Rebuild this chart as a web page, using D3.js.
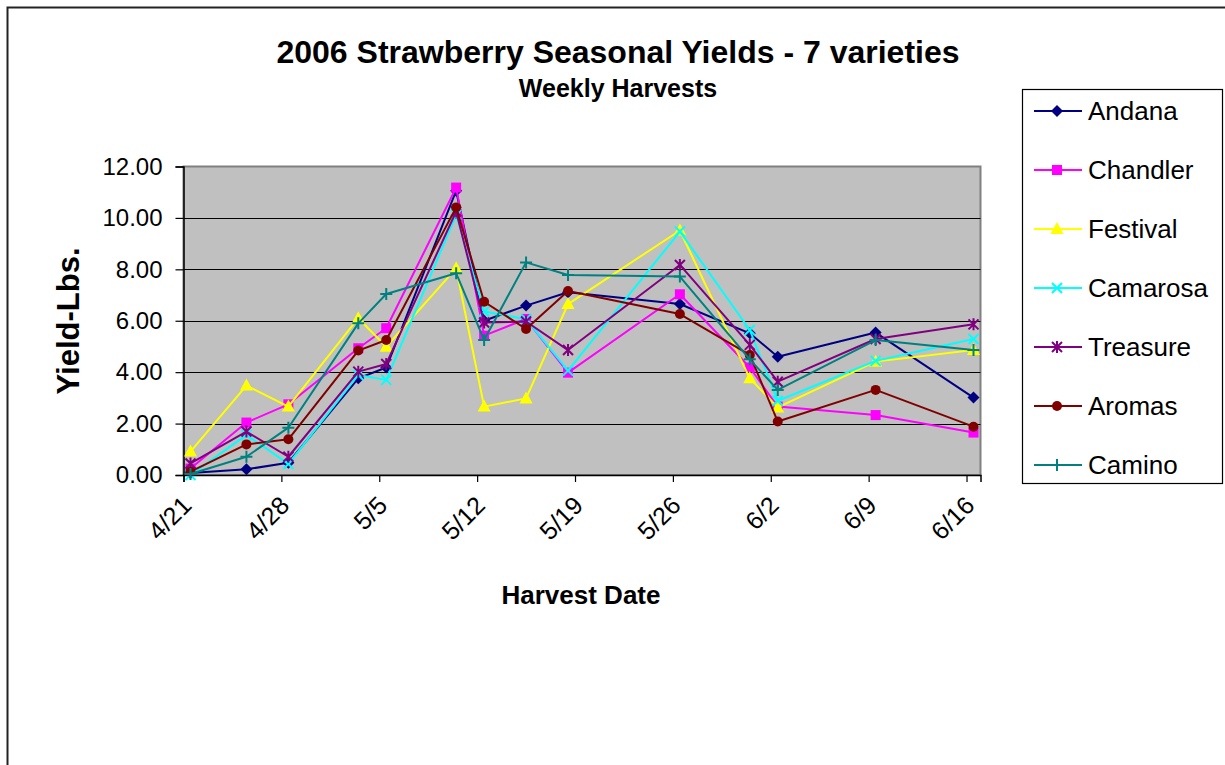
<!DOCTYPE html>
<html>
<head>
<meta charset="utf-8">
<script src="https://cdn.jsdelivr.net/npm/d3@7"></script>
<style>
  html, body { margin: 0; padding: 0; background: #fff; }
  svg { display: block; }
  text { font-family: Arial, "Liberation Sans", sans-serif; fill: #000; }
</style>
</head>
<body>
<svg id="chart" width="1225" height="765"></svg>
<script>
// ---- data ----
const harvestDates = ["2006-04-21","2006-04-25","2006-04-28","2006-05-03","2006-05-05","2006-05-10","2006-05-12",
                      "2006-05-15","2006-05-18","2006-05-26","2006-05-31","2006-06-02","2006-06-09","2006-06-16"];
const andana   = [0.08, 0.22, 0.48, 3.76, 4.18, 11.06, 6.00, 6.59, 7.11, 6.65, 5.51, 4.60, 5.54, 3.01];
const chandler = [0.25, 2.04, 2.75, 4.93, 5.71, 11.18, 5.42, 6.07, 3.98, 7.03, 4.18, 2.66, 2.33, 1.65];
const festival = [0.91, 3.48, 2.66, 6.10, 4.99, 8.04, 2.66, 2.98, 6.65, 9.51, 3.76, 2.63, 4.41, 4.86];
const camarosa = [0.00, 1.56, 0.43, 3.89, 3.70, 10.12, 6.36, 6.06, 4.06, 9.47, 5.64, 2.89, 4.44, 5.29];
const treasure = [0.45, 1.69, 0.71, 4.02, 4.32, 10.25, 5.93, 5.97, 4.86, 8.17, 5.06, 3.63, 5.29, 5.86];
const aromas   = [0.13, 1.19, 1.39, 4.84, 5.25, 10.41, 6.74, 5.68, 7.16, 6.26, 4.67, 2.08, 3.31, 1.88];
const camino   = [0.04, 0.71, 1.84, 5.90, 7.04, 7.85, 5.25, 8.27, 7.78, 7.72, 4.50, 3.31, 5.25, 4.86];
const seriesNames = ["Andana","Chandler","Festival","Camarosa","Treasure","Aromas","Camino"];
const tickDates = ["2006-04-21","2006-04-28","2006-05-05","2006-05-12","2006-05-19","2006-05-26","2006-06-02","2006-06-09","2006-06-16"];
const tickLabels = ["4/21","4/28","5/5","5/12","5/19","5/26","6/2","6/9","6/16"];
const yTicks = [0, 2, 4, 6, 8, 10, 12];
const axisStart = "2006-04-21", axisEnd = "2006-06-17";

// ---- styles ----
const seriesValues = [andana, chandler, festival, camarosa, treasure, aromas, camino];
const colors = ["#000080","#FF00FF","#FFFF00","#00FFFF","#800080","#800000","#008080"];
const markers = ["diamond","square","triangle","x","star","circle","plus"];

const parse = d3.utcParse("%Y-%m-%d");
const svg = d3.select("#chart");

// outer chart border
svg.append("rect").attr("x", 7.5).attr("y", 7.5).attr("width", 1240).attr("height", 780)
  .attr("fill", "#fff").attr("stroke", "#222").attr("stroke-width", 2);

const L = 183.5, R = 980.5, T = 166.5, B = 475;
const x = d3.scaleUtc().domain([parse(axisStart), parse(axisEnd)]).range([L, R]);
const y = d3.scaleLinear().domain([0, 12]).range([B, T]);
const halfDay = 12 * 3600 * 1000;
const px = d => x(new Date(+parse(d) + halfDay));

// plot area
svg.append("rect").attr("x", L).attr("y", T).attr("width", R - L).attr("height", B - T)
  .attr("fill", "#C0C0C0").attr("stroke", "#808080").attr("stroke-width", 2);

// gridlines
svg.append("g").selectAll("line").data(yTicks.filter(v => v > 0 && v < 12)).join("line")
  .attr("x1", L).attr("x2", R).attr("y1", d => Math.round(y(d)) + 0.5).attr("y2", d => Math.round(y(d)) + 0.5)
  .attr("stroke", "#000").attr("stroke-width", 1.2);

// y axis
const yAxis = d3.axisLeft(y).tickValues(yTicks).tickFormat(d3.format(".2f")).tickSize(8).tickPadding(13);
const gy = svg.append("g").attr("transform", `translate(${L},0)`).call(yAxis);
gy.select(".domain").attr("stroke", "#000").attr("stroke-width", 1.5);
gy.selectAll(".tick line").attr("stroke", "#000").attr("stroke-width", 1.2);
gy.selectAll(".tick text").style("font-size", "24px").style("font-family", "Arial, 'Liberation Sans', sans-serif");

// x axis
const xAxis = d3.axisBottom(x).tickValues(tickDates.map(parse)).tickFormat((d, i) => tickLabels[i]).tickSize(7);
const gx = svg.append("g").attr("transform", `translate(0,${B})`).call(xAxis);
gx.select(".domain").attr("stroke", "#000").attr("stroke-width", 1.5);
gx.selectAll(".tick line").attr("stroke", "#000").attr("stroke-width", 1.2);
gx.selectAll(".tick text")
  .style("font-size", "25px").style("font-family", "Arial, 'Liberation Sans', sans-serif")
  .attr("text-anchor", "end").attr("dy", null).attr("y", 0)
  .attr("transform", "translate(9,32) rotate(-45)");

// marker drawing
function drawMarker(g, type, color) {
  const s = 5;
  if (type === "diamond") {
    g.append("path").attr("d", `M0,${-s-1}L${s+1},0L0,${s+1}L${-s-1},0Z`).attr("fill", color);
  } else if (type === "square") {
    g.append("rect").attr("x", -s).attr("y", -s).attr("width", 2*s).attr("height", 2*s).attr("fill", color);
  } else if (type === "triangle") {
    g.append("path").attr("d", `M0,${-s-2}L${s+1.5},${s}L${-s-1.5},${s}Z`).attr("fill", color);
  } else if (type === "circle") {
    g.append("circle").attr("r", s).attr("fill", color);
  } else if (type === "x") {
    g.append("path").attr("d", `M${-s},${-s}L${s},${s}M${-s},${s}L${s},${-s}`).attr("stroke", color).attr("stroke-width", 2).attr("fill", "none");
  } else if (type === "star") {
    g.append("path").attr("d", `M${-s},${-s}L${s},${s}M${-s},${s}L${s},${-s}M0,${-s-1}L0,${s+1}`).attr("stroke", color).attr("stroke-width", 2).attr("fill", "none");
  } else if (type === "plus") {
    g.append("path").attr("d", `M${-s-1},0L${s+1},0M0,${-s-1}L0,${s+1}`).attr("stroke", color).attr("stroke-width", 2).attr("fill", "none");
  }
}

// series
const line = d3.line().x(d => px(d.date)).y(d => y(d.v));
seriesValues.forEach((vals, si) => {
  const pts = harvestDates.map((d, i) => ({ date: d, v: vals[i] }));
  const g = svg.append("g");
  g.append("path").datum(pts).attr("d", line).attr("fill", "none")
    .attr("stroke", colors[si]).attr("stroke-width", 2).attr("stroke-linejoin", "round");
  g.selectAll("g.m").data(pts).join("g").attr("class", "m")
    .attr("transform", d => `translate(${px(d.date)},${y(d.v)})`)
    .each(function () { drawMarker(d3.select(this), markers[si], colors[si]); });
});

// titles
svg.append("text").attr("x", 618).attr("y", 63).attr("text-anchor", "middle")
  .style("font-size", "32px").style("font-weight", "bold").text("2006 Strawberry Seasonal Yields - 7 varieties");
svg.append("text").attr("x", 618).attr("y", 97).attr("text-anchor", "middle")
  .style("font-size", "25px").style("font-weight", "bold").text("Weekly Harvests");
svg.append("text").attr("transform", "translate(79,321) rotate(-90)").attr("text-anchor", "middle")
  .style("font-size", "31px").style("font-weight", "bold").text("Yield-Lbs.");
svg.append("text").attr("x", 581).attr("y", 604).attr("text-anchor", "middle")
  .style("font-size", "26px").style("font-weight", "bold").text("Harvest Date");

// legend
const lg = svg.append("g");
lg.append("rect").attr("x", 1022.5).attr("y", 89.5).attr("width", 200).attr("height", 394)
  .attr("fill", "#fff").attr("stroke", "#000").attr("stroke-width", 1.2);
seriesNames.forEach((name, i) => {
  const cy = 111 + i * 59;
  const g = lg.append("g");
  g.append("line").attr("x1", 1034).attr("x2", 1082).attr("y1", cy).attr("y2", cy)
    .attr("stroke", colors[i]).attr("stroke-width", 2);
  const m = g.append("g").attr("transform", `translate(1057,${cy})`);
  drawMarker(m, markers[i], colors[i]);
  g.append("text").attr("x", 1088).attr("y", cy + 9).style("font-size", "26px").text(name);
});
</script>
</body>
</html>
